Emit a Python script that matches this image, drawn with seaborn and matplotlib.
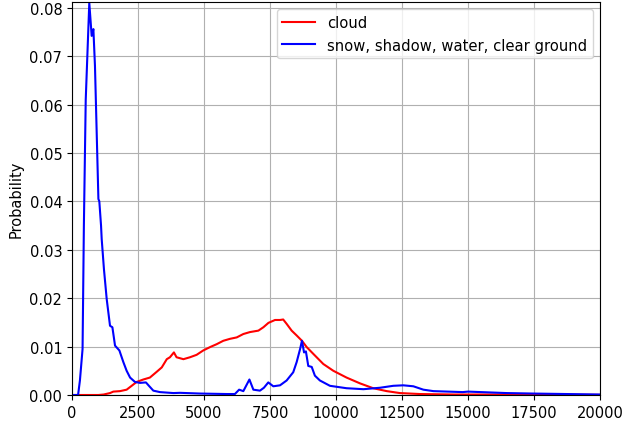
import pandas as pd
import seaborn as sns
import matplotlib
matplotlib.use("Agg")
import matplotlib.pyplot as plt

# Valores
cloud_x = [0, 1000, 1200, 1440, 1565, 1820, 2070, 2260, 2450, 2700, 2950, 3210, 3400,
           3590, 3710, 3860, 3960, 4220, 4470, 4720, 4970, 5230, 5480, 5730, 5980,
           6240, 6490, 6740, 7060, 7250, 7440, 7690, 7880, 8000, 8130, 8320, 8510,
           8710, 8890, 9140, 9520, 9900, 10400, 10910, 11410, 11920, 12420, 13180,
           14500, 16000, 18000, 20000]
cloud_y = [0, 0, 0.0001, 0.0004, 0.0007, 0.0008, 0.0011, 0.0019, 0.0027, 0.0032,
           0.0036, 0.0048, 0.0057, 0.0074, 0.0078, 0.0088, 0.0078, 0.0074, 0.0078,
           0.0083, 0.0092, 0.0099, 0.0105, 0.0112, 0.0116, 0.0119, 0.0126, 0.0130,
           0.0133, 0.0140, 0.0149, 0.0155, 0.0155, 0.0156, 0.0147, 0.0133, 0.0123,
           0.0112, 0.0099, 0.0085, 0.0064, 0.0050, 0.0036, 0.0024, 0.0014, 0.0008,
           0.0004, 0.0002, 0.0001, 0.0001, 0.00005, 0.00003]

other_x = [0, 230, 300, 400, 450, 520, 655, 745, 810, 870, 1000, 1035, 1100, 1125,
           1210, 1315, 1440, 1530, 1630, 1795, 1945, 2070, 2200, 2385, 2575, 2800,
           2930, 3080, 3330, 3840, 4090, 4850, 5860, 6170, 6330, 6490, 6720, 6870,
           7120, 7270, 7435, 7625, 7880, 8130, 8380, 8510, 8640, 8710, 8790, 8860,
           8950, 9080, 9200, 9390, 9770, 10400, 11040, 11670, 12170, 12550, 12930,
           13310, 13690, 14800, 15000, 16460, 17460, 20000]
other_y = [0, 0, 0.003, 0.0095, 0.035, 0.061, 0.081, 0.0742, 0.0756, 0.068, 0.0405,
           0.040, 0.035, 0.0322, 0.026, 0.0198, 0.0143, 0.014, 0.0102, 0.0092, 0.0068,
           0.0050, 0.0036, 0.0027, 0.0025, 0.0026, 0.0018, 0.0009, 0.0006, 0.0004,
           0.00045, 0.0003, 0.0002, 0.0002, 0.0011, 0.0008, 0.0032, 0.0011, 0.0009,
           0.0015, 0.0026, 0.0018, 0.0020, 0.0030, 0.0047, 0.0068, 0.0095, 0.0112,
           0.0088, 0.0090, 0.0060, 0.0058, 0.0040, 0.0030, 0.0019, 0.0014, 0.0012,
           0.0015, 0.0019, 0.0020, 0.0018, 0.0011, 0.0008, 0.0006, 0.0007, 0.0004,
           0.0003, 0.0001]

labels = ["cloud", "snow, shadow, water, clear ground"]

df = pd.concat([
    pd.DataFrame({"x": cloud_x, "p": cloud_y, "classe": labels[0]}),
    pd.DataFrame({"x": other_x, "p": other_y, "classe": labels[1]}),
])

plt.rcParams["font.size"] = 10.5

fig = plt.figure(figsize=(6.25, 4.27), dpi=100)
ax = fig.add_axes([0.1152, 0.0726, 0.8448, 0.9204])

sns.lineplot(data=df, x="x", y="p", hue="classe", palette=["red", "blue"],
             linewidth=1.5, ax=ax, sort=False, estimator=None)

ax.set_xlim(0, 20000)
ax.set_ylim(0, 0.0812)
ax.set_xticks(range(0, 20001, 2500))
ax.set_yticks([0.0, 0.01, 0.02, 0.03, 0.04, 0.05, 0.06, 0.07, 0.08])
ax.set_yticklabels(["0.00", "0.01", "0.02", "0.03", "0.04", "0.05", "0.06", "0.07", "0.08"])
ax.tick_params(labelsize=10.5)
ax.grid(True, color="#b0b0b0", linewidth=0.8)
ax.set_axisbelow(True)
ax.set_xlabel("")
ax.set_ylabel("Probability", fontsize=10.5)
ax.legend(loc="upper right", title=None, fontsize=10.6, handlelength=2.2)

fig.savefig("out.png", dpi=100)
